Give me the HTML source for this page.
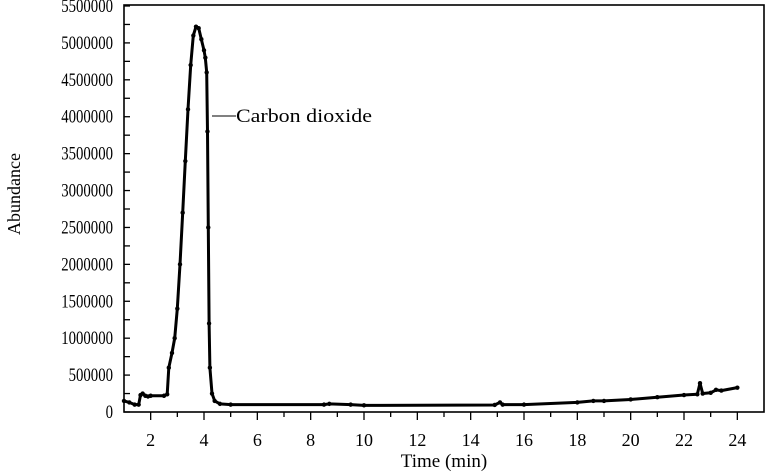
<!DOCTYPE html>
<html><head><meta charset="utf-8"><style>
body{margin:0;background:#fff}
svg{display:block;font-family:"Liberation Serif",serif}
</style></head><body>
<svg id="c" width="768" height="472"></svg>
<script>
const times=[1.0,1.2,1.4,1.55,1.62,1.7,1.8,1.9,2.0,2.5,2.62,2.68,2.8,2.9,3.0,3.1,3.2,3.3,3.4,3.5,3.6,3.7,3.8,3.9,4.0,4.05,4.1,4.13,4.16,4.19,4.22,4.3,4.4,4.6,5,8.5,8.7,9.5,10,14.9,15.1,15.2,16,18,18.6,19,20,21,22,22.5,22.6,22.7,23,23.2,23.4,24];
const abundance=[150000,130000,100000,100000,230000,250000,220000,210000,220000,220000,240000,600000,800000,1000000,1400000,2000000,2700000,3400000,4100000,4700000,5100000,5220000,5200000,5050000,4900000,4800000,4600000,3800000,2500000,1200000,600000,250000,150000,110000,100000,100000,110000,100000,90000,95000,130000,100000,100000,130000,150000,150000,170000,200000,230000,240000,390000,250000,260000,300000,290000,330000];
const yTicks=[0,500000,1000000,1500000,2000000,2500000,3000000,3500000,4000000,4500000,5000000,5500000];
const xTicks=[2,4,6,8,10,12,14,16,18,20,22,24];
const L=124,R=764,T=5,B=412,x0=1,x1=25,ymax=5500000;
const sx=v=>L+(v-x0)/(x1-x0)*(R-L);
const sy=v=>B-v/ymax*(B-T-1);
const svg=document.getElementById('c');
const NS='http://www.w3.org/2000/svg';
function mk(t,a,p){const e=document.createElementNS(NS,t);for(const k in a)e.setAttribute(k,a[k]);(p||svg).appendChild(e);return e;}
const frame=mk('rect',{x:L,y:T,width:R-L,height:B-T,fill:'none',stroke:'#000','stroke-width':1.6});


for(let v=0;v<=ymax;v+=250000){
  const t=mk('line',{x1:L,x2:L+6,y1:sy(v),y2:sy(v),stroke:'#000','stroke-width':1.3});
  
  
}
yTicks.forEach(v=>{
  const s=String(v);
  const t=mk('text',{x:113,y:sy(v)+6,'text-anchor':'end','font-size':19,textLength:s.length*7.4,lengthAdjust:'spacingAndGlyphs'});
  t.textContent=s;
  
  
});
for(let v=2;v<=24;v++){
  const t=mk('line',{x1:sx(v),x2:sx(v),y1:B,y2:B+(v%2?5:8),stroke:'#000','stroke-width':1.3});
  
  
}
xTicks.forEach(v=>{
  const t=mk('text',{x:sx(v),y:446,'text-anchor':'middle','font-size':18});
  t.textContent=v;
  
  
});
const xt=mk('text',{x:444,y:467,'text-anchor':'middle','font-size':19});
xt.textContent='Time (min)';


const yt=mk('text',{x:0,y:0,'text-anchor':'middle','font-size':18,transform:'translate(20,194) rotate(-90)'});
yt.textContent='Abundance';


const d=times.map((t,i)=>(i?'L':'M')+sx(t).toFixed(1)+','+sy(abundance[i]).toFixed(1)).join(' ');
const line=mk('path',{d:d,fill:'none',stroke:'#000','stroke-width':3,'stroke-linejoin':'round'});


times.forEach((t,i)=>{
  const c=mk('circle',{cx:sx(t),cy:sy(abundance[i]),r:2.2,fill:'#000'});
  
  
});
const ll=mk('line',{x1:212,x2:236,y1:116,y2:116,stroke:'#000','stroke-width':1});


const lab=mk('text',{x:236,y:122,'font-size':19,textLength:136,lengthAdjust:'spacingAndGlyphs'});
lab.textContent='Carbon dioxide';


</script>
</body></html>
